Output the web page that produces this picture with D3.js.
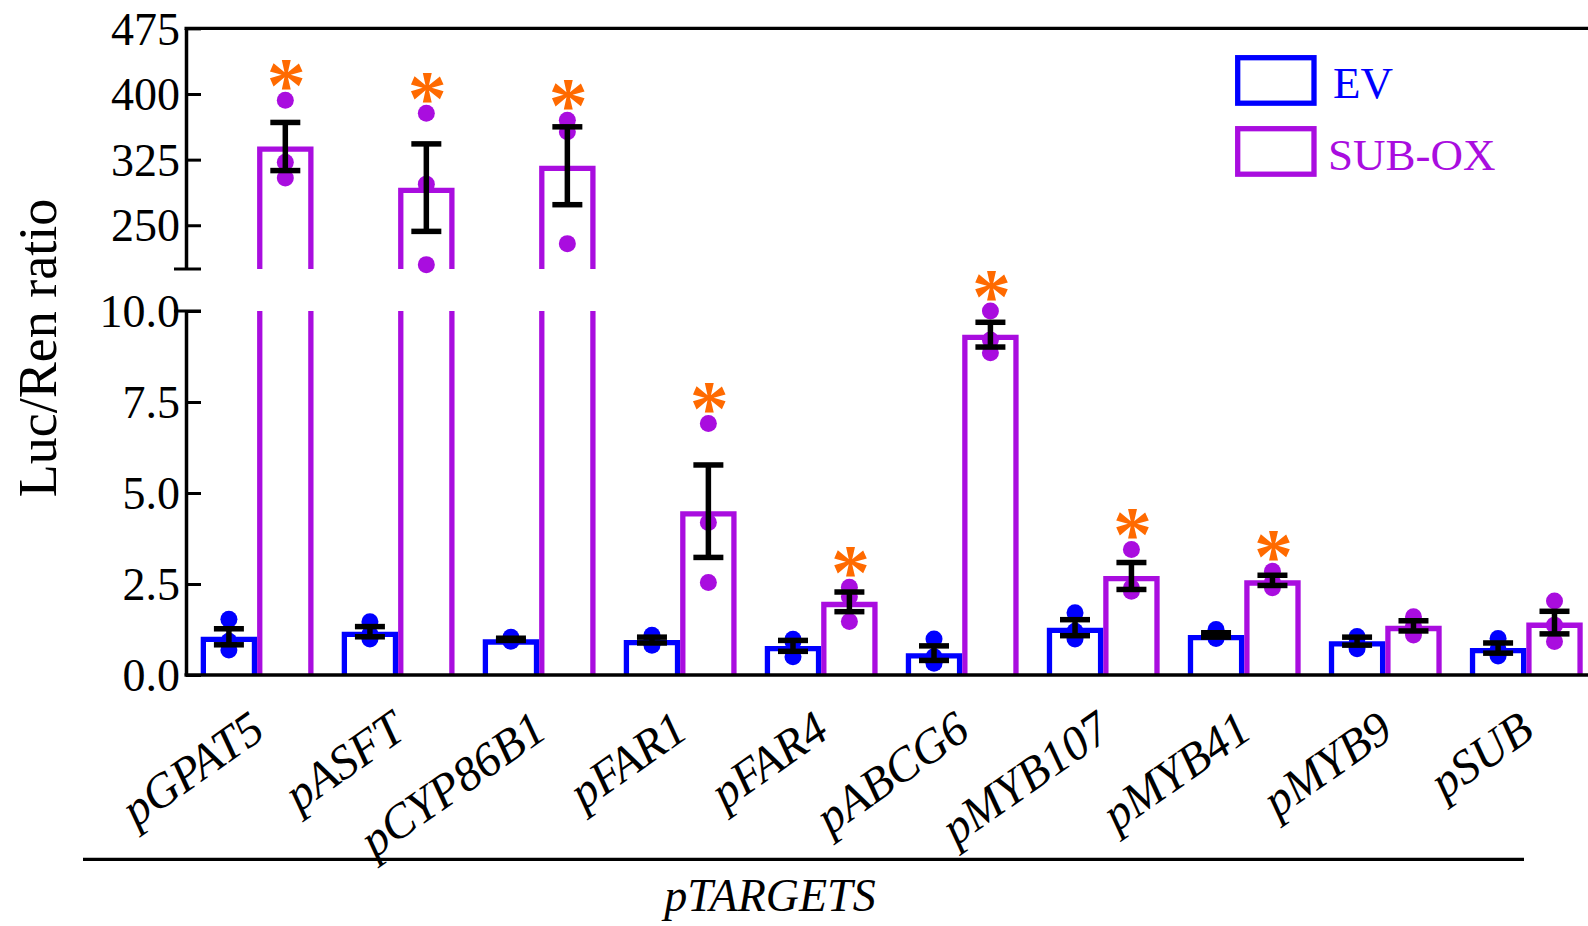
<!DOCTYPE html>
<html>
<head>
<meta charset="utf-8">
<script src="https://cdn.jsdelivr.net/npm/d3@7"></script>
<style>
  body { margin: 0; background: #fff; }
  text { font-family: 'Liberation Serif', 'Times New Roman', serif; }
</style>
</head>
<body>
<div id="chart"></div>
<script>
// targets and groups
const targets = ['pGPAT5', 'pASFT', 'pCYP86B1', 'pFAR1', 'pFAR4', 'pABCG6', 'pMYB107', 'pMYB41', 'pMYB9', 'pSUB']
const groups = ['EV', 'SUB-OX']

// EV values (mean, SEM, replicates)
const evMean = [1.05, 1.19, 0.98, 0.96, 0.80, 0.60, 1.30, 1.10, 0.93, 0.74]
const evSem = [0.22, 0.14, 0.03, 0.08, 0.15, 0.20, 0.22, 0.06, 0.11, 0.14]
const evDots = [
  [1.53, 0.93, 0.69], [1.46, 1.12, 0.99], [1.04, 0.98, 0.93], [1.09, 0.97, 0.82],
  [0.98, 0.92, 0.50], [0.99, 0.50, 0.32], [1.71, 1.20, 0.99], [1.25, 1.05, 1.00],
  [1.06, 1.01, 0.72], [1.00, 0.70, 0.52]
]

// SUB-OX values
const oxMean = [340, 293, 318, 4.50, 2.01, 9.35, 2.72, 2.60, 1.35, 1.44]
const oxSem = [27.5, 50, 44.5, 1.27, 0.27, 0.34, 0.37, 0.14, 0.14, 0.31]
const oxDots = [
  [393, 322, 304], [378, 297, 205], [370, 357, 229], [6.91, 4.19, 2.54],
  [2.41, 2.15, 1.47], [10.0, 9.20, 8.85], [3.45, 2.40, 2.30], [2.85, 2.55, 2.40],
  [1.60, 1.35, 1.10], [2.03, 1.37, 0.92]
]
const significant = [true, true, true, true, true, true, true, true, false, false]

// axis ticks
const lowTicks = [0, 2.5, 5, 7.5, 10]
const highTicks = [250, 325, 400, 475]

const colors = { EV: '#0000ff', 'SUB-OX': '#a90ddf' }
const starColor = '#ff6a00'

const width = 1588
const height = 926
const axisX = 186
const baseY = 675
const sw = 5.3

const svg = d3
  .select('#chart')
  .append('svg')
  .attr('width', width)
  .attr('height', height)

// scales
const xGroup = d3
  .scaleBand()
  .domain(targets)
  .range([200.7, 1582.7])
  .paddingInner(0.2)
  .paddingOuter(0)

const xBar = d3
  .scaleBand()
  .domain(groups)
  .range([0, xGroup.bandwidth()])

const yLow = d3
  .scaleLinear()
  .domain([0, 10])
  .range([baseY, 311])

const yHigh = d3
  .scaleLinear()
  .domain([200, 475])
  .range([269, 28.4])

const yPos = v => (v <= 10 ? yLow(v) : yHigh(v))

const rows = []
targets.forEach((t, i) => {
  rows.push({ target: t, group: 'EV', mean: evMean[i], sem: evSem[i], dots: evDots[i], sig: false })
  rows.push({ target: t, group: 'SUB-OX', mean: oxMean[i], sem: oxSem[i], dots: oxDots[i], sig: significant[i] })
})

const barLeft = d => xGroup(d.target) + xBar(d.group) + sw / 2
const barRight = d => xGroup(d.target) + xBar(d.group) + xBar.bandwidth() - sw / 2
const barMid = d => xGroup(d.target) + xBar(d.group) + xBar.bandwidth() / 2

// bars
rows.forEach(d => {
  const x0 = barLeft(d)
  const x1 = barRight(d)
  let p
  if (d.mean <= 10) {
    p = `M${x0},${baseY}V${yLow(d.mean) + sw / 2}H${x1}V${baseY}`
  } else {
    p = `M${x0},${baseY}V${yLow(10)}M${x1},${baseY}V${yLow(10)}` +
      `M${x0},${yHigh(200)}V${yHigh(d.mean) + sw / 2}H${x1}V${yHigh(200)}`
  }
  svg
    .append('path')
    .attr('d', p)
    .attr('fill', 'none')
    .attr('stroke', colors[d.group])
    .attr('stroke-width', sw)
})

// replicate dots
rows.forEach(d => {
  svg
    .append('g')
    .selectAll('circle')
    .data(d.dots)
    .enter()
    .append('circle')
    .attr('cx', barMid(d))
    .attr('cy', v => yPos(v))
    .attr('r', 8.5)
    .attr('fill', colors[d.group])
})

// error bars
rows.forEach(d => {
  const cx = barMid(d)
  const yTop = yPos(d.mean + d.sem)
  const yBot = yPos(d.mean - d.sem)
  const g = svg.append('g').attr('stroke', '#000').attr('stroke-width', 5.5)
  g.append('line').attr('x1', cx).attr('x2', cx).attr('y1', yTop).attr('y2', yBot)
  g.append('line').attr('x1', cx - 15).attr('x2', cx + 15).attr('y1', yTop).attr('y2', yTop)
  g.append('line').attr('x1', cx - 15).attr('x2', cx + 15).attr('y1', yBot).attr('y2', yBot)
})

// asterisks
rows
  .filter(d => d.sig)
  .forEach(d => {
    const top = Math.min(d3.min(d.dots, v => yPos(v)) - 8.5, yPos(d.mean + d.sem))
    svg
      .append('text')
      .text('*')
      .attr('x', barMid(d) + 1)
      .attr('y', top - 25 + 44)
      .attr('text-anchor', 'middle')
      .attr('font-family', 'Liberation Sans, Arial, sans-serif')
      .attr('font-weight', 'bold')
      .attr('font-size', 78)
      .attr('fill', starColor)
  })

// y axes (ticks point inward)
const lowAxis = d3
  .axisLeft(yLow)
  .tickValues(lowTicks)
  .tickFormat(d3.format('.1f'))
  .tickSize(-15)
  .tickSizeOuter(0)
  .tickPadding(6)

const highAxis = d3
  .axisLeft(yHigh)
  .tickValues(highTicks)
  .tickFormat(d3.format('d'))
  .tickSize(-15)
  .tickSizeOuter(0)
  .tickPadding(6)

;[lowAxis, highAxis].forEach(ax => {
  const g = svg
    .append('g')
    .attr('transform', `translate(${axisX},0)`)
    .call(ax)
  g.select('.domain').attr('stroke', '#000').attr('stroke-width', 3.5)
  g.selectAll('.tick line').attr('stroke', '#000').attr('stroke-width', 3)
  g.selectAll('.tick text')
    .attr('font-family', 'Liberation Serif, Times New Roman, serif')
    .attr('font-size', 46)
    .attr('fill', '#000')
    .attr('dy', '0.34em')
})

// axis break marks
;[yHigh(200), yLow(10)].forEach(y => {
  svg
    .append('line')
    .attr('x1', axisX - 12)
    .attr('x2', axisX + 15)
    .attr('y1', y)
    .attr('y2', y)
    .attr('stroke', '#000')
    .attr('stroke-width', 3)
})

// baseline and top frame line
svg
  .append('line')
  .attr('x1', axisX - 1.5)
  .attr('x2', width)
  .attr('y1', yLow(0))
  .attr('y2', yLow(0))
  .attr('stroke', '#000')
  .attr('stroke-width', 3.3)

svg
  .append('line')
  .attr('x1', axisX - 1.5)
  .attr('x2', width)
  .attr('y1', yHigh(475))
  .attr('y2', yHigh(475))
  .attr('stroke', '#000')
  .attr('stroke-width', 3.3)

// x labels
svg
  .append('g')
  .selectAll('text')
  .data(targets)
  .enter()
  .append('text')
  .text(d => d)
  .attr('transform', d => `translate(${xGroup(d) + xGroup.bandwidth() / 2 + 10},736) rotate(-35)`)
  .attr('text-anchor', 'end')
  .attr('font-style', 'italic')
  .attr('font-size', 48)

// bracket line and group title
svg
  .append('line')
  .attr('x1', 83)
  .attr('x2', 1524)
  .attr('y1', 859.3)
  .attr('y2', 859.3)
  .attr('stroke', '#000')
  .attr('stroke-width', 3.3)

svg
  .append('text')
  .text('pTARGETS')
  .attr('x', 770)
  .attr('y', 911)
  .attr('text-anchor', 'middle')
  .attr('font-style', 'italic')
  .attr('font-size', 46)

// y title
svg
  .append('text')
  .text('Luc/Ren ratio')
  .attr('transform', 'translate(56,348) rotate(-90)')
  .attr('text-anchor', 'middle')
  .attr('font-size', 54)

// legend
const legend = svg.append('g')
groups.forEach((gName, i) => {
  legend
    .append('rect')
    .attr('x', 1237.7)
    .attr('y', 57.7 + i * 71)
    .attr('width', 76.3)
    .attr('height', 45.5)
    .attr('fill', 'none')
    .attr('stroke', colors[gName])
    .attr('stroke-width', sw)
  legend
    .append('text')
    .text(gName)
    .attr('x', i === 0 ? 1333 : 1328)
    .attr('y', 98.3 + i * 71.7)
    .attr('font-size', 45)
    .attr('fill', colors[gName])
})
</script>
</body>
</html>
